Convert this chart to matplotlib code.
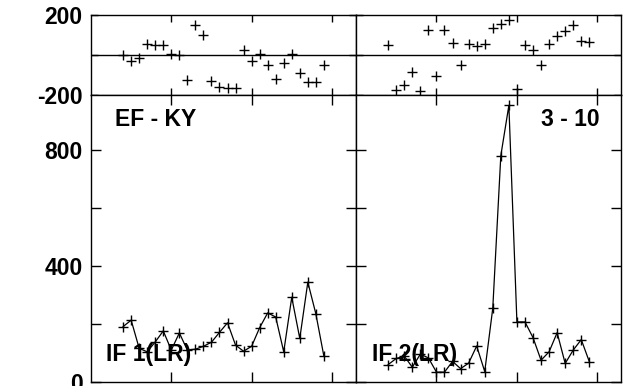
import numpy as np
import matplotlib.pyplot as plt

plt.rcParams['font.family'] = ['Liberation Sans', 'DejaVu Sans']
plt.rcParams['font.weight'] = 'bold'

# day index shared by all four panels
days = [4, 5, 6, 7, 8, 9, 10, 11, 12, 13, 14, 15, 16,
        17, 18, 19, 20, 21, 22, 23, 24, 25, 26, 27, 28, 29]

# EF - KY (top left) and IF 1(LR) (bottom left)
ef_left = [-3, -32, -15, 55, 47, 47, 5, 0, -123, 147, 100, -132, -158,
           -165, -165, 22, -32, 2, -53, -120, -42, 2, -92, -133, -133, -53]
if_left = [190, 212, 115, 103, 137, 175, 109, 168, 109, 112, 122, 136, 170,
           203, 126, 105, 122, 186, 237, 223, 103, 291, 149, 343, 234, 88]

# 3 - 10 (top right) and IF 2(LR) (bottom right)
ef_right = [50, -175, -148, -83, -178, 122, -105, 122, 60, -53, 52, 43, 55,
            135, 155, 172, -170, 47, 22, -50, 55, 92, 117, 147, 68, 63]
if_right = [59, 80, 88, 50, 95, 82, 33, 33, 70, 45, 64, 123, 35,
            253, 779, 952, 206, 206, 152, 74, 103, 169, 63, 109, 145, 69]

W, H = 634.0, 386.0


def box(l, t, r, b):
    return [l / W, 1 - b / H, (r - l) / W, (b - t) / H]


def style(ax, ylim, yticks, ylabels, tlen):
    ax.set_xlim(0, 33)
    ax.set_ylim(*ylim)
    ax.set_xticks([10, 20, 30])
    ax.set_xticklabels([])
    ax.set_yticks(yticks)
    ax.set_yticklabels(ylabels)
    ax.tick_params(direction='in', top=True, right=True, length=tlen,
                   width=1, labelsize=16.5, pad=6)
    for s in ax.spines.values():
        s.set_linewidth(1)


fig = plt.figure(figsize=(6.34, 3.86), dpi=100)

ax_tl = fig.add_axes(box(91, 14.7, 356, 95))
ax_tr = fig.add_axes(box(356, 14.7, 621.5, 95))
ax_bl = fig.add_axes(box(91, 95, 356, 381.7))
ax_br = fig.add_axes(box(356, 95, 621.5, 381.7))

for ax, ef in [(ax_tl, ef_left), (ax_tr, ef_right)]:
    ax.axhline(0, color='k', lw=1)
    ax.plot(days, ef, 'k+', ms=7.5, mew=1)

for ax, vals in [(ax_bl, if_left), (ax_br, if_right)]:
    ax.plot(days, vals, 'k-', lw=0.9)
    ax.plot(days, vals, 'k+', ms=7.5, mew=1)

style(ax_tl, (-200, 200), [-200, 0, 200], ['-200', '', '200'], 5)
style(ax_tr, (-200, 200), [-200, 0, 200], ['', '', ''], 5)
style(ax_bl, (0, 988), [0, 200, 400, 600, 800], ['0', '', '400', '', '800'], 7)
style(ax_br, (0, 988), [0, 200, 400, 600, 800], ['', '', '', '', ''], 7)

ax_bl.text(0.09, 0.892, 'EF - KY', transform=ax_bl.transAxes,
           fontsize=16.5, fontweight='bold', va='baseline')
ax_br.text(0.918, 0.892, '3 - 10', transform=ax_br.transAxes,
           fontsize=16.5, fontweight='bold', va='baseline', ha='right')
ax_bl.text(0.057, 0.072, 'IF 1(LR)', transform=ax_bl.transAxes,
           fontsize=16.5, fontweight='bold', va='baseline')
ax_br.text(0.059, 0.072, 'IF 2(LR)', transform=ax_br.transAxes,
           fontsize=16.5, fontweight='bold', va='baseline')

fig.savefig('out.png', dpi=100)
